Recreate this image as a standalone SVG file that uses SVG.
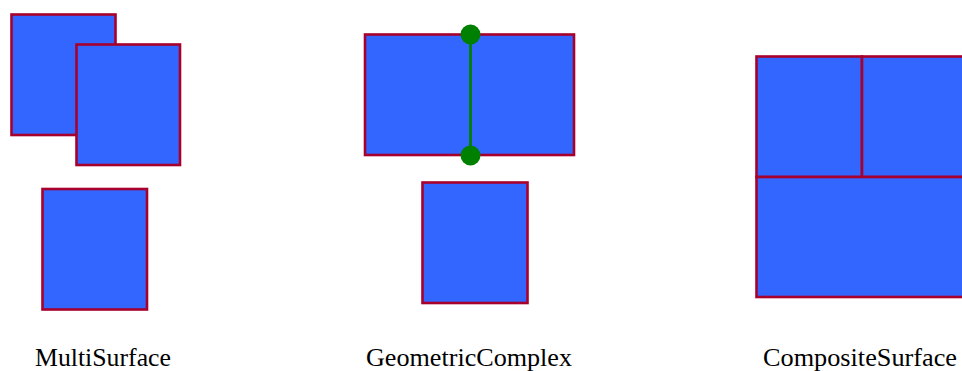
<svg xmlns="http://www.w3.org/2000/svg" width="962" height="371" viewBox="0 0 962 371">
  <style>
    .face { fill: #3366FF; stroke: #A8002C; stroke-width: 2.6; }
    .edge { stroke: #008000; stroke-width: 2.8; fill: none; }
    .node { fill: #008000; }
    .label { font-family: "Liberation Serif", "Times New Roman", serif; font-size: 25.5px; fill: #000; }
  </style>
  <rect width="962" height="371" fill="#FFFFFF"/>
  <g id="multisurface">
    <rect class="face" x="11.5" y="14.5" width="104" height="120.5"/>
    <rect class="face" x="76.5" y="44.5" width="103.5" height="120.5"/>
    <rect class="face" x="42.5" y="189" width="104.5" height="120.5"/>
    <text class="label" x="35" y="366" textLength="136" lengthAdjust="spacingAndGlyphs">MultiSurface</text>
  </g>
  <g id="geometriccomplex">
    <rect class="face" x="365" y="34.5" width="209" height="120.5"/>
    <rect class="face" x="422.5" y="182.5" width="105" height="120.5"/>
    <text class="label" x="366" y="366" textLength="206" lengthAdjust="spacingAndGlyphs">GeometricComplex</text>
  </g>
  <g id="compositesurface">
    <rect class="face" x="756.5" y="56.5" width="105.5" height="120.5"/>
    <rect class="face" x="862" y="56.5" width="106" height="120.5"/>
    <rect class="face" x="756.5" y="177" width="211.5" height="120"/>
    <text class="label" x="763" y="366" textLength="194" lengthAdjust="spacingAndGlyphs">CompositeSurface</text>
  </g>
  <g id="connectors">
    <line class="edge" x1="470.5" y1="34.5" x2="470.5" y2="155.5"/>
    <circle class="node" cx="470.5" cy="34.5" r="10"/>
    <circle class="node" cx="470.5" cy="155.5" r="10"/>
  </g>
</svg>
